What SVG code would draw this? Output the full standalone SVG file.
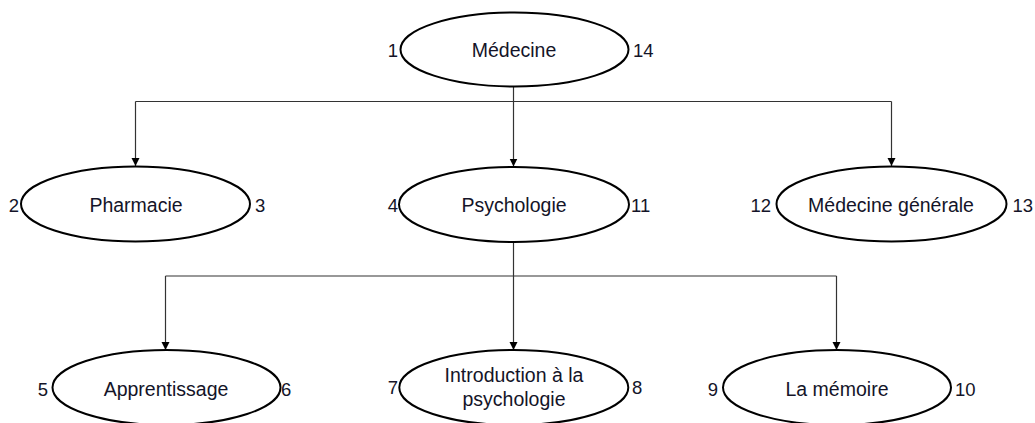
<svg xmlns="http://www.w3.org/2000/svg" width="1035" height="423" viewBox="0 0 1035 423">
  <defs>
    <marker id="arrow" viewBox="0 0 10 10" refX="10" refY="5" markerWidth="8" markerHeight="9" markerUnits="userSpaceOnUse" orient="auto">
      <path d="M0,0 L10,5 L0,10 Z" fill="#000"/>
    </marker>
  </defs>
  <style>
    .node ellipse { fill: #fff; stroke: #000; stroke-width: 2; }
    .label { font-family: "Liberation Sans", Arial, sans-serif; font-size: 19.5px; fill: #141428; text-anchor: middle; }
    .num { font-family: "Liberation Sans", Arial, sans-serif; font-size: 18.5px; fill: #141428; }
    .num.l { text-anchor: end; }
    .num.r { text-anchor: start; }
    .conn { fill: none; stroke: #333; stroke-width: 1.2; }
  </style>
  <rect width="1035" height="423" fill="#fff"/>

  <!-- connectors -->
  <g id="connectors">
    <path class="conn" d="M513.5,87 V101.5"/>
    <path class="conn" d="M135.5,101.5 H891.5"/>
    <path class="conn" d="M135.5,101.5 V166" marker-end="url(#arrow)"/>
    <path class="conn" d="M513.5,101.5 V166.5" marker-end="url(#arrow)"/>
    <path class="conn" d="M891.5,101.5 V166" marker-end="url(#arrow)"/>
    <path class="conn" d="M513.5,242 V276"/>
    <path class="conn" d="M165.5,276 H836.5"/>
    <path class="conn" d="M165.5,276 V350" marker-end="url(#arrow)"/>
    <path class="conn" d="M513.5,276 V350" marker-end="url(#arrow)"/>
    <path class="conn" d="M836.5,276 V350" marker-end="url(#arrow)"/>
  </g>

  <g id="medecine" class="node">
    <ellipse cx="514.5" cy="49.5" rx="114" ry="37"/>
    <text class="label" x="514" y="56.5">Médecine</text>
    <text class="num l" x="398" y="56.5">1</text>
    <text class="num r" x="633" y="56.5">14</text>
  </g>

  <g id="pharmacie" class="node">
    <ellipse cx="135.5" cy="204" rx="114.5" ry="37.5"/>
    <text class="label" x="136" y="212">Pharmacie</text>
    <text class="num l" x="19" y="212">2</text>
    <text class="num r" x="255" y="212">3</text>
  </g>

  <g id="psychologie" class="node">
    <ellipse cx="514" cy="204.5" rx="115" ry="37.5"/>
    <text class="label" x="514" y="212">Psychologie</text>
    <text class="num l" x="398" y="212">4</text>
    <text class="num r" x="631" y="212">11</text>
  </g>

  <g id="medecine-generale" class="node">
    <ellipse cx="891.5" cy="204" rx="115" ry="37.5"/>
    <text class="label" x="891" y="212">Médecine générale</text>
    <text class="num l" x="771" y="212">12</text>
    <text class="num l" x="1033" y="212">13</text>
  </g>

  <g id="apprentissage" class="node">
    <ellipse cx="166.5" cy="387.5" rx="114" ry="37.5"/>
    <text class="label" x="166" y="395.5">Apprentissage</text>
    <text class="num l" x="48" y="395.5">5</text>
    <text class="num r" x="281" y="395.5">6</text>
  </g>

  <g id="introduction" class="node">
    <ellipse cx="513.8" cy="387.5" rx="114.5" ry="37.5"/>
    <text class="label" x="514" y="382">Introduction à la</text>
    <text class="label" x="514" y="406">psychologie</text>
    <text class="num l" x="398" y="393.5">7</text>
    <text class="num r" x="632" y="393.5">8</text>
  </g>

  <g id="la-memoire" class="node">
    <ellipse cx="837" cy="387.5" rx="114" ry="37.5"/>
    <text class="label" x="837" y="395.5">La mémoire</text>
    <text class="num l" x="718" y="395.5">9</text>
    <text class="num r" x="955" y="395.5">10</text>
  </g>
</svg>
